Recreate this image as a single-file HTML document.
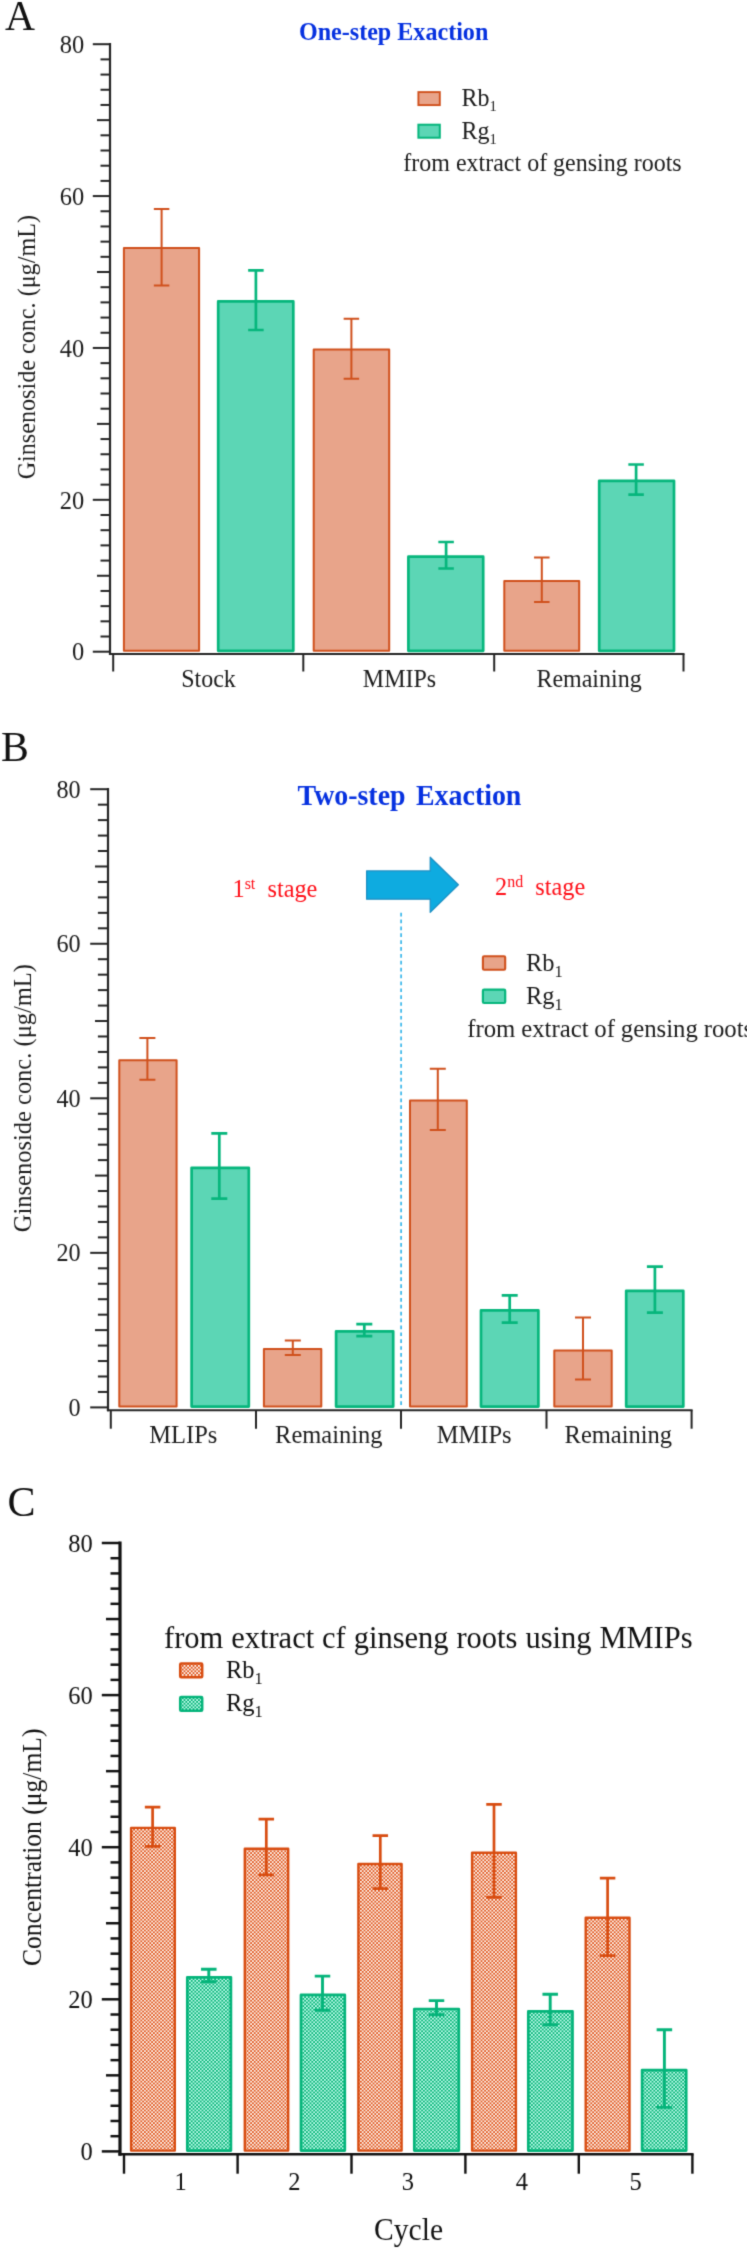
<!DOCTYPE html>
<html lang="en">
<head>
<meta charset="utf-8">
<title>Ginsenoside extraction figure</title>
<style>
html,body{margin:0;padding:0;background:#fff;}
body{width:747px;height:2248px;overflow:hidden;}
svg{display:block;font-family:"Liberation Serif","DejaVu Serif",serif;}
</style>
</head>
<body>
<svg width="747" height="2248" viewBox="0 0 747 2248">
<defs>
<filter id="soft" x="0" y="0" width="747" height="2248" filterUnits="userSpaceOnUse" color-interpolation-filters="sRGB"><feConvolveMatrix order="3" kernelMatrix="0.02 0.1 0.02 0.1 0.52 0.1 0.02 0.1 0.02" divisor="1" edgeMode="duplicate" preserveAlpha="true"/></filter>
<pattern id="po" width="3.6" height="3.6" patternUnits="userSpaceOnUse"><rect width="3.6" height="3.6" fill="#fffcf8"/><rect width="1.8" height="1.8" fill="#de5016"/><rect x="1.8" y="1.8" width="1.8" height="1.8" fill="#de5016"/></pattern>
<pattern id="pg" width="3.6" height="3.6" patternUnits="userSpaceOnUse"><rect width="3.6" height="3.6" fill="#c6fff2"/><rect width="1.8" height="1.8" fill="#00b070"/><rect x="1.8" y="1.8" width="1.8" height="1.8" fill="#00b070"/></pattern>
</defs>
<g filter="url(#soft)">
<rect width="747" height="2248" fill="#ffffff"/>
<text transform="translate(5.1 29.7) scale(1 1)" font-size="41.5" fill="#111" text-anchor="start" >A</text>
<line x1="110" y1="43.10" x2="110" y2="655.10" stroke="#242424" stroke-width="2.2"/>
<line x1="92.80" y1="44.20" x2="110.00" y2="44.20" stroke="#242424" stroke-width="2"/>
<line x1="100.50" y1="59.39" x2="110.00" y2="59.39" stroke="#242424" stroke-width="2"/>
<line x1="100.50" y1="74.58" x2="110.00" y2="74.58" stroke="#242424" stroke-width="2"/>
<line x1="100.50" y1="89.76" x2="110.00" y2="89.76" stroke="#242424" stroke-width="2"/>
<line x1="100.50" y1="104.95" x2="110.00" y2="104.95" stroke="#242424" stroke-width="2"/>
<line x1="97.00" y1="120.14" x2="110.00" y2="120.14" stroke="#242424" stroke-width="2"/>
<line x1="100.50" y1="135.32" x2="110.00" y2="135.32" stroke="#242424" stroke-width="2"/>
<line x1="100.50" y1="150.51" x2="110.00" y2="150.51" stroke="#242424" stroke-width="2"/>
<line x1="100.50" y1="165.70" x2="110.00" y2="165.70" stroke="#242424" stroke-width="2"/>
<line x1="100.50" y1="180.89" x2="110.00" y2="180.89" stroke="#242424" stroke-width="2"/>
<line x1="92.80" y1="196.07" x2="110.00" y2="196.07" stroke="#242424" stroke-width="2"/>
<line x1="100.50" y1="211.26" x2="110.00" y2="211.26" stroke="#242424" stroke-width="2"/>
<line x1="100.50" y1="226.45" x2="110.00" y2="226.45" stroke="#242424" stroke-width="2"/>
<line x1="100.50" y1="241.64" x2="110.00" y2="241.64" stroke="#242424" stroke-width="2"/>
<line x1="100.50" y1="256.82" x2="110.00" y2="256.82" stroke="#242424" stroke-width="2"/>
<line x1="97.00" y1="272.01" x2="110.00" y2="272.01" stroke="#242424" stroke-width="2"/>
<line x1="100.50" y1="287.20" x2="110.00" y2="287.20" stroke="#242424" stroke-width="2"/>
<line x1="100.50" y1="302.39" x2="110.00" y2="302.39" stroke="#242424" stroke-width="2"/>
<line x1="100.50" y1="317.57" x2="110.00" y2="317.57" stroke="#242424" stroke-width="2"/>
<line x1="100.50" y1="332.76" x2="110.00" y2="332.76" stroke="#242424" stroke-width="2"/>
<line x1="92.80" y1="347.95" x2="110.00" y2="347.95" stroke="#242424" stroke-width="2"/>
<line x1="100.50" y1="363.14" x2="110.00" y2="363.14" stroke="#242424" stroke-width="2"/>
<line x1="100.50" y1="378.32" x2="110.00" y2="378.32" stroke="#242424" stroke-width="2"/>
<line x1="100.50" y1="393.51" x2="110.00" y2="393.51" stroke="#242424" stroke-width="2"/>
<line x1="100.50" y1="408.70" x2="110.00" y2="408.70" stroke="#242424" stroke-width="2"/>
<line x1="97.00" y1="423.89" x2="110.00" y2="423.89" stroke="#242424" stroke-width="2"/>
<line x1="100.50" y1="439.07" x2="110.00" y2="439.07" stroke="#242424" stroke-width="2"/>
<line x1="100.50" y1="454.26" x2="110.00" y2="454.26" stroke="#242424" stroke-width="2"/>
<line x1="100.50" y1="469.45" x2="110.00" y2="469.45" stroke="#242424" stroke-width="2"/>
<line x1="100.50" y1="484.64" x2="110.00" y2="484.64" stroke="#242424" stroke-width="2"/>
<line x1="92.80" y1="499.82" x2="110.00" y2="499.82" stroke="#242424" stroke-width="2"/>
<line x1="100.50" y1="515.01" x2="110.00" y2="515.01" stroke="#242424" stroke-width="2"/>
<line x1="100.50" y1="530.20" x2="110.00" y2="530.20" stroke="#242424" stroke-width="2"/>
<line x1="100.50" y1="545.39" x2="110.00" y2="545.39" stroke="#242424" stroke-width="2"/>
<line x1="100.50" y1="560.58" x2="110.00" y2="560.58" stroke="#242424" stroke-width="2"/>
<line x1="97.00" y1="575.76" x2="110.00" y2="575.76" stroke="#242424" stroke-width="2"/>
<line x1="100.50" y1="590.95" x2="110.00" y2="590.95" stroke="#242424" stroke-width="2"/>
<line x1="100.50" y1="606.14" x2="110.00" y2="606.14" stroke="#242424" stroke-width="2"/>
<line x1="100.50" y1="621.33" x2="110.00" y2="621.33" stroke="#242424" stroke-width="2"/>
<line x1="100.50" y1="636.51" x2="110.00" y2="636.51" stroke="#242424" stroke-width="2"/>
<line x1="92.80" y1="651.70" x2="110.00" y2="651.70" stroke="#242424" stroke-width="2"/>
<text transform="translate(84.2 52.90) scale(1 1.035)" font-size="24.5" text-anchor="end" fill="#1c1c1c">80</text>
<text transform="translate(84.2 204.77) scale(1 1.035)" font-size="24.5" text-anchor="end" fill="#1c1c1c">60</text>
<text transform="translate(84.2 356.65) scale(1 1.035)" font-size="24.5" text-anchor="end" fill="#1c1c1c">40</text>
<text transform="translate(84.2 508.52) scale(1 1.035)" font-size="24.5" text-anchor="end" fill="#1c1c1c">20</text>
<text transform="translate(84.2 660.40) scale(1 1.035)" font-size="24.5" text-anchor="end" fill="#1c1c1c">0</text>
<line x1="109" y1="654" x2="684.5" y2="654" stroke="#242424" stroke-width="2"/>
<line x1="113.2" y1="654" x2="113.2" y2="671.5" stroke="#242424" stroke-width="2"/>
<line x1="303.3" y1="654" x2="303.3" y2="671.5" stroke="#242424" stroke-width="2"/>
<line x1="494.2" y1="654" x2="494.2" y2="671.5" stroke="#242424" stroke-width="2"/>
<line x1="683.5" y1="654" x2="683.5" y2="671.5" stroke="#242424" stroke-width="2"/>
<rect x="123.90" y="248.10" width="75.20" height="402.70" fill="#e8a48a" stroke="#d0501c" stroke-width="2.0" stroke-linejoin="round"/>
<path d="M153.85 209.00H169.35M161.60 209.00V285.60M153.85 285.60H169.35" fill="none" stroke="#d0501c" stroke-width="2.0"/>
<rect x="218.20" y="301.40" width="75.10" height="349.40" fill="#5cd6b5" stroke="#06b67c" stroke-width="2.7" stroke-linejoin="round"/>
<path d="M248.15 270.30H263.65M255.90 270.30V330.00M248.15 330.00H263.65" fill="none" stroke="#06b67c" stroke-width="2.7"/>
<rect x="313.70" y="349.50" width="75.50" height="301.30" fill="#e8a48a" stroke="#d0501c" stroke-width="2.0" stroke-linejoin="round"/>
<path d="M343.65 318.70H359.15M351.40 318.70V378.70M343.65 378.70H359.15" fill="none" stroke="#d0501c" stroke-width="2.0"/>
<rect x="408.40" y="556.70" width="74.80" height="94.10" fill="#5cd6b5" stroke="#06b67c" stroke-width="2.7" stroke-linejoin="round"/>
<path d="M438.35 542.00H453.85M446.10 542.00V568.50M438.35 568.50H453.85" fill="none" stroke="#06b67c" stroke-width="2.7"/>
<rect x="504.30" y="580.90" width="74.90" height="69.90" fill="#e8a48a" stroke="#d0501c" stroke-width="2.0" stroke-linejoin="round"/>
<path d="M534.05 557.60H549.55M541.80 557.60V602.00M534.05 602.00H549.55" fill="none" stroke="#d0501c" stroke-width="2.0"/>
<rect x="599.20" y="480.80" width="74.80" height="170.00" fill="#5cd6b5" stroke="#06b67c" stroke-width="2.7" stroke-linejoin="round"/>
<path d="M628.35 464.50H643.85M636.10 464.50V494.60M628.35 494.60H643.85" fill="none" stroke="#06b67c" stroke-width="2.7"/>
<text transform="translate(208.5 686.7) scale(1 1.035)" font-size="24" fill="#1c1c1c" text-anchor="middle" >Stock</text>
<text transform="translate(399.5 686.7) scale(1 1.035)" font-size="24" fill="#1c1c1c" text-anchor="middle" >MMIPs</text>
<text transform="translate(589 686.7) scale(1 1.035)" font-size="24" fill="#1c1c1c" text-anchor="middle" >Remaining</text>
<text transform="translate(35.3 347.2) rotate(-90) scale(1 1.035)" font-size="24.15" fill="#1c1c1c" text-anchor="middle" >Ginsenoside conc. (μg/mL)</text>
<text transform="translate(298.9 39.8) scale(1 1.06)" font-size="24.1" fill="#0631e0" text-anchor="start" font-weight="bold">One-step Exaction</text>
<rect x="418.4" y="92.1" width="21.4" height="13" fill="#e8a48a" stroke="#d0501c" stroke-width="1.9"/>
<rect x="418.4" y="124.7" width="21.4" height="13" fill="#5cd6b5" stroke="#06b67c" stroke-width="2"/>
<text transform="translate(461.6 105.6) scale(1 1.035)" font-size="24" fill="#1c1c1c">Rb<tspan dy="4.9" font-size="14.5">1</tspan></text>
<text transform="translate(461.6 138.5) scale(1 1.035)" font-size="24" fill="#1c1c1c">Rg<tspan dy="4.9" font-size="14.5">1</tspan></text>
<text transform="translate(403.3 170.8) scale(1 1.035)" font-size="24" fill="#1c1c1c" text-anchor="start" >from extract of gensing roots</text>
<text transform="translate(1.1 761.3) scale(1 1)" font-size="41.8" fill="#111" text-anchor="start" >B</text>
<line x1="108" y1="788.10" x2="108" y2="1411.30" stroke="#242424" stroke-width="2.2"/>
<line x1="90.20" y1="789.20" x2="108.00" y2="789.20" stroke="#242424" stroke-width="2"/>
<line x1="97.90" y1="804.66" x2="108.00" y2="804.66" stroke="#242424" stroke-width="2"/>
<line x1="97.90" y1="820.11" x2="108.00" y2="820.11" stroke="#242424" stroke-width="2"/>
<line x1="97.90" y1="835.57" x2="108.00" y2="835.57" stroke="#242424" stroke-width="2"/>
<line x1="97.90" y1="851.02" x2="108.00" y2="851.02" stroke="#242424" stroke-width="2"/>
<line x1="95.00" y1="866.48" x2="108.00" y2="866.48" stroke="#242424" stroke-width="2"/>
<line x1="97.90" y1="881.93" x2="108.00" y2="881.93" stroke="#242424" stroke-width="2"/>
<line x1="97.90" y1="897.39" x2="108.00" y2="897.39" stroke="#242424" stroke-width="2"/>
<line x1="97.90" y1="912.84" x2="108.00" y2="912.84" stroke="#242424" stroke-width="2"/>
<line x1="97.90" y1="928.30" x2="108.00" y2="928.30" stroke="#242424" stroke-width="2"/>
<line x1="90.20" y1="943.75" x2="108.00" y2="943.75" stroke="#242424" stroke-width="2"/>
<line x1="97.90" y1="959.21" x2="108.00" y2="959.21" stroke="#242424" stroke-width="2"/>
<line x1="97.90" y1="974.66" x2="108.00" y2="974.66" stroke="#242424" stroke-width="2"/>
<line x1="97.90" y1="990.12" x2="108.00" y2="990.12" stroke="#242424" stroke-width="2"/>
<line x1="97.90" y1="1005.57" x2="108.00" y2="1005.57" stroke="#242424" stroke-width="2"/>
<line x1="95.00" y1="1021.03" x2="108.00" y2="1021.03" stroke="#242424" stroke-width="2"/>
<line x1="97.90" y1="1036.48" x2="108.00" y2="1036.48" stroke="#242424" stroke-width="2"/>
<line x1="97.90" y1="1051.93" x2="108.00" y2="1051.93" stroke="#242424" stroke-width="2"/>
<line x1="97.90" y1="1067.39" x2="108.00" y2="1067.39" stroke="#242424" stroke-width="2"/>
<line x1="97.90" y1="1082.85" x2="108.00" y2="1082.85" stroke="#242424" stroke-width="2"/>
<line x1="90.20" y1="1098.30" x2="108.00" y2="1098.30" stroke="#242424" stroke-width="2"/>
<line x1="97.90" y1="1113.76" x2="108.00" y2="1113.76" stroke="#242424" stroke-width="2"/>
<line x1="97.90" y1="1129.21" x2="108.00" y2="1129.21" stroke="#242424" stroke-width="2"/>
<line x1="97.90" y1="1144.66" x2="108.00" y2="1144.66" stroke="#242424" stroke-width="2"/>
<line x1="97.90" y1="1160.12" x2="108.00" y2="1160.12" stroke="#242424" stroke-width="2"/>
<line x1="95.00" y1="1175.58" x2="108.00" y2="1175.58" stroke="#242424" stroke-width="2"/>
<line x1="97.90" y1="1191.03" x2="108.00" y2="1191.03" stroke="#242424" stroke-width="2"/>
<line x1="97.90" y1="1206.49" x2="108.00" y2="1206.49" stroke="#242424" stroke-width="2"/>
<line x1="97.90" y1="1221.94" x2="108.00" y2="1221.94" stroke="#242424" stroke-width="2"/>
<line x1="97.90" y1="1237.39" x2="108.00" y2="1237.39" stroke="#242424" stroke-width="2"/>
<line x1="90.20" y1="1252.85" x2="108.00" y2="1252.85" stroke="#242424" stroke-width="2"/>
<line x1="97.90" y1="1268.31" x2="108.00" y2="1268.31" stroke="#242424" stroke-width="2"/>
<line x1="97.90" y1="1283.76" x2="108.00" y2="1283.76" stroke="#242424" stroke-width="2"/>
<line x1="97.90" y1="1299.22" x2="108.00" y2="1299.22" stroke="#242424" stroke-width="2"/>
<line x1="97.90" y1="1314.67" x2="108.00" y2="1314.67" stroke="#242424" stroke-width="2"/>
<line x1="95.00" y1="1330.12" x2="108.00" y2="1330.12" stroke="#242424" stroke-width="2"/>
<line x1="97.90" y1="1345.58" x2="108.00" y2="1345.58" stroke="#242424" stroke-width="2"/>
<line x1="97.90" y1="1361.04" x2="108.00" y2="1361.04" stroke="#242424" stroke-width="2"/>
<line x1="97.90" y1="1376.49" x2="108.00" y2="1376.49" stroke="#242424" stroke-width="2"/>
<line x1="97.90" y1="1391.95" x2="108.00" y2="1391.95" stroke="#242424" stroke-width="2"/>
<line x1="90.20" y1="1407.40" x2="108.00" y2="1407.40" stroke="#242424" stroke-width="2"/>
<text transform="translate(80.6 797.80) scale(1 1.035)" font-size="24.2" text-anchor="end" fill="#1c1c1c">80</text>
<text transform="translate(80.6 952.35) scale(1 1.035)" font-size="24.2" text-anchor="end" fill="#1c1c1c">60</text>
<text transform="translate(80.6 1106.90) scale(1 1.035)" font-size="24.2" text-anchor="end" fill="#1c1c1c">40</text>
<text transform="translate(80.6 1261.45) scale(1 1.035)" font-size="24.2" text-anchor="end" fill="#1c1c1c">20</text>
<text transform="translate(80.6 1416.00) scale(1 1.035)" font-size="24.2" text-anchor="end" fill="#1c1c1c">0</text>
<line x1="106.9" y1="1410.2" x2="692.6" y2="1410.2" stroke="#242424" stroke-width="2"/>
<line x1="110.8" y1="1410.2" x2="110.8" y2="1428.7" stroke="#242424" stroke-width="2"/>
<line x1="256.0" y1="1410.2" x2="256.0" y2="1428.7" stroke="#242424" stroke-width="2"/>
<line x1="401.0" y1="1410.2" x2="401.0" y2="1428.7" stroke="#242424" stroke-width="2"/>
<line x1="546.5" y1="1410.2" x2="546.5" y2="1428.7" stroke="#242424" stroke-width="2"/>
<line x1="691.6" y1="1410.2" x2="691.6" y2="1428.7" stroke="#242424" stroke-width="2"/>
<line x1="401.1" y1="912.7" x2="401.1" y2="1407" stroke="#38b6ea" stroke-width="1.7" stroke-dasharray="3.7 3.18"/>
<rect x="119.30" y="1060.20" width="57.30" height="346.40" fill="#e8a48a" stroke="#d0501c" stroke-width="2.0" stroke-linejoin="round"/>
<path d="M139.40 1038.00H155.40M147.40 1038.00V1079.80M139.40 1079.80H155.40" fill="none" stroke="#d0501c" stroke-width="2.0"/>
<rect x="191.60" y="1167.80" width="57.20" height="238.80" fill="#5cd6b5" stroke="#06b67c" stroke-width="2.7" stroke-linejoin="round"/>
<path d="M211.30 1133.30H227.30M219.30 1133.30V1198.70M211.30 1198.70H227.30" fill="none" stroke="#06b67c" stroke-width="2.7"/>
<rect x="263.90" y="1349.00" width="57.40" height="57.60" fill="#e8a48a" stroke="#d0501c" stroke-width="2.0" stroke-linejoin="round"/>
<path d="M284.80 1340.60H300.80M292.80 1340.60V1355.00M284.80 1355.00H300.80" fill="none" stroke="#d0501c" stroke-width="2.0"/>
<rect x="336.10" y="1331.30" width="57.10" height="75.30" fill="#5cd6b5" stroke="#06b67c" stroke-width="2.7" stroke-linejoin="round"/>
<path d="M356.30 1324.10H372.30M364.30 1324.10V1336.10M356.30 1336.10H372.30" fill="none" stroke="#06b67c" stroke-width="2.7"/>
<rect x="410.00" y="1100.50" width="56.80" height="306.10" fill="#e8a48a" stroke="#d0501c" stroke-width="2.0" stroke-linejoin="round"/>
<path d="M429.80 1068.70H445.80M437.80 1068.70V1130.10M429.80 1130.10H445.80" fill="none" stroke="#d0501c" stroke-width="2.0"/>
<rect x="481.00" y="1310.40" width="57.40" height="96.20" fill="#5cd6b5" stroke="#06b67c" stroke-width="2.7" stroke-linejoin="round"/>
<path d="M501.70 1295.30H517.70M509.70 1295.30V1322.70M501.70 1322.70H517.70" fill="none" stroke="#06b67c" stroke-width="2.7"/>
<rect x="554.30" y="1350.40" width="57.40" height="56.20" fill="#e8a48a" stroke="#d0501c" stroke-width="2.0" stroke-linejoin="round"/>
<path d="M575.00 1317.60H591.00M583.00 1317.60V1379.60M575.00 1379.60H591.00" fill="none" stroke="#d0501c" stroke-width="2.0"/>
<rect x="626.20" y="1290.80" width="57.10" height="115.80" fill="#5cd6b5" stroke="#06b67c" stroke-width="2.7" stroke-linejoin="round"/>
<path d="M646.90 1266.70H662.90M654.90 1266.70V1312.60M646.90 1312.60H662.90" fill="none" stroke="#06b67c" stroke-width="2.7"/>
<text transform="translate(183.3 1443) scale(1 1.035)" font-size="24.5" fill="#1c1c1c" text-anchor="middle" >MLIPs</text>
<text transform="translate(328.8 1443) scale(1 1.035)" font-size="24.5" fill="#1c1c1c" text-anchor="middle" >Remaining</text>
<text transform="translate(474.2 1443) scale(1 1.035)" font-size="24.5" fill="#1c1c1c" text-anchor="middle" >MMIPs</text>
<text transform="translate(618.3 1443) scale(1 1.035)" font-size="24.5" fill="#1c1c1c" text-anchor="middle" >Remaining</text>
<text transform="translate(30.8 1098.1) rotate(-90) scale(1 1.035)" font-size="24.5" fill="#1c1c1c" text-anchor="middle" >Ginsenoside conc. (μg/mL)</text>
<text transform="translate(409.5 805.1) scale(1 1.09)" font-size="27.9" fill="#0631e0" text-anchor="middle" font-weight="bold" word-spacing="3.5">Two-step Exaction</text>
<text transform="translate(232.5 896.6) scale(1 1.05)" font-size="24.3" fill="#ff0f18" xml:space="preserve">1<tspan dy="-7.5" font-size="16">st</tspan><tspan dy="7.5">  stage</tspan></text>
<text transform="translate(495.0 895.3) scale(1 1.05)" font-size="24.3" fill="#ff0f18" xml:space="preserve">2<tspan dy="-7.5" font-size="16">nd</tspan><tspan dy="7.5">  stage</tspan></text>
<path d="M366.6 870.9H430.2V857.2L458.4 884.8L430.2 912.4V899.2H366.6Z" fill="#0eabe0" stroke="#1c8ec2" stroke-width="1.2" stroke-linejoin="round"/>
<rect x="482.9" y="956.3" width="22.3" height="13.4" rx="1.2" fill="#e8a48a" stroke="#d0501c" stroke-width="2.1"/>
<rect x="482.9" y="989.6" width="22.3" height="13.4" rx="1.2" fill="#5cd6b5" stroke="#06b67c" stroke-width="2.2"/>
<text transform="translate(526.0 971) scale(1 1.035)" font-size="24.5" fill="#1c1c1c">Rb<tspan dy="6.2" font-size="16.5">1</tspan></text>
<text transform="translate(526.0 1004) scale(1 1.035)" font-size="24.5" fill="#1c1c1c">Rg<tspan dy="6.2" font-size="16.5">1</tspan></text>
<text transform="translate(467.2 1036.8) scale(1 1.035)" font-size="24.8" fill="#1c1c1c" text-anchor="start" word-spacing="-0.4">from extract of gensing roots</text>
<text transform="translate(7.6 1515.5) scale(1 1)" font-size="42" fill="#111" text-anchor="start" >C</text>
<line x1="120" y1="1541.40" x2="120" y2="2155.80" stroke="#111111" stroke-width="3.2"/>
<line x1="101.80" y1="1543.00" x2="120.00" y2="1543.00" stroke="#111111" stroke-width="2.5"/>
<line x1="110.50" y1="1558.21" x2="120.00" y2="1558.21" stroke="#111111" stroke-width="2.5"/>
<line x1="110.50" y1="1573.42" x2="120.00" y2="1573.42" stroke="#111111" stroke-width="2.5"/>
<line x1="110.50" y1="1588.63" x2="120.00" y2="1588.63" stroke="#111111" stroke-width="2.5"/>
<line x1="110.50" y1="1603.84" x2="120.00" y2="1603.84" stroke="#111111" stroke-width="2.5"/>
<line x1="106.00" y1="1619.05" x2="120.00" y2="1619.05" stroke="#111111" stroke-width="2.5"/>
<line x1="110.50" y1="1634.26" x2="120.00" y2="1634.26" stroke="#111111" stroke-width="2.5"/>
<line x1="110.50" y1="1649.47" x2="120.00" y2="1649.47" stroke="#111111" stroke-width="2.5"/>
<line x1="110.50" y1="1664.68" x2="120.00" y2="1664.68" stroke="#111111" stroke-width="2.5"/>
<line x1="110.50" y1="1679.89" x2="120.00" y2="1679.89" stroke="#111111" stroke-width="2.5"/>
<line x1="101.80" y1="1695.10" x2="120.00" y2="1695.10" stroke="#111111" stroke-width="2.5"/>
<line x1="110.50" y1="1710.31" x2="120.00" y2="1710.31" stroke="#111111" stroke-width="2.5"/>
<line x1="110.50" y1="1725.52" x2="120.00" y2="1725.52" stroke="#111111" stroke-width="2.5"/>
<line x1="110.50" y1="1740.73" x2="120.00" y2="1740.73" stroke="#111111" stroke-width="2.5"/>
<line x1="110.50" y1="1755.94" x2="120.00" y2="1755.94" stroke="#111111" stroke-width="2.5"/>
<line x1="106.00" y1="1771.15" x2="120.00" y2="1771.15" stroke="#111111" stroke-width="2.5"/>
<line x1="110.50" y1="1786.36" x2="120.00" y2="1786.36" stroke="#111111" stroke-width="2.5"/>
<line x1="110.50" y1="1801.57" x2="120.00" y2="1801.57" stroke="#111111" stroke-width="2.5"/>
<line x1="110.50" y1="1816.78" x2="120.00" y2="1816.78" stroke="#111111" stroke-width="2.5"/>
<line x1="110.50" y1="1831.99" x2="120.00" y2="1831.99" stroke="#111111" stroke-width="2.5"/>
<line x1="101.80" y1="1847.20" x2="120.00" y2="1847.20" stroke="#111111" stroke-width="2.5"/>
<line x1="110.50" y1="1862.41" x2="120.00" y2="1862.41" stroke="#111111" stroke-width="2.5"/>
<line x1="110.50" y1="1877.62" x2="120.00" y2="1877.62" stroke="#111111" stroke-width="2.5"/>
<line x1="110.50" y1="1892.83" x2="120.00" y2="1892.83" stroke="#111111" stroke-width="2.5"/>
<line x1="110.50" y1="1908.04" x2="120.00" y2="1908.04" stroke="#111111" stroke-width="2.5"/>
<line x1="106.00" y1="1923.25" x2="120.00" y2="1923.25" stroke="#111111" stroke-width="2.5"/>
<line x1="110.50" y1="1938.46" x2="120.00" y2="1938.46" stroke="#111111" stroke-width="2.5"/>
<line x1="110.50" y1="1953.67" x2="120.00" y2="1953.67" stroke="#111111" stroke-width="2.5"/>
<line x1="110.50" y1="1968.88" x2="120.00" y2="1968.88" stroke="#111111" stroke-width="2.5"/>
<line x1="110.50" y1="1984.09" x2="120.00" y2="1984.09" stroke="#111111" stroke-width="2.5"/>
<line x1="101.80" y1="1999.30" x2="120.00" y2="1999.30" stroke="#111111" stroke-width="2.5"/>
<line x1="110.50" y1="2014.51" x2="120.00" y2="2014.51" stroke="#111111" stroke-width="2.5"/>
<line x1="110.50" y1="2029.72" x2="120.00" y2="2029.72" stroke="#111111" stroke-width="2.5"/>
<line x1="110.50" y1="2044.93" x2="120.00" y2="2044.93" stroke="#111111" stroke-width="2.5"/>
<line x1="110.50" y1="2060.14" x2="120.00" y2="2060.14" stroke="#111111" stroke-width="2.5"/>
<line x1="106.00" y1="2075.35" x2="120.00" y2="2075.35" stroke="#111111" stroke-width="2.5"/>
<line x1="110.50" y1="2090.56" x2="120.00" y2="2090.56" stroke="#111111" stroke-width="2.5"/>
<line x1="110.50" y1="2105.77" x2="120.00" y2="2105.77" stroke="#111111" stroke-width="2.5"/>
<line x1="110.50" y1="2120.98" x2="120.00" y2="2120.98" stroke="#111111" stroke-width="2.5"/>
<line x1="110.50" y1="2136.19" x2="120.00" y2="2136.19" stroke="#111111" stroke-width="2.5"/>
<line x1="101.80" y1="2151.40" x2="120.00" y2="2151.40" stroke="#111111" stroke-width="2.5"/>
<text transform="translate(92.8 1551.60) scale(1 1.035)" font-size="24.5" text-anchor="end" fill="#111">80</text>
<text transform="translate(92.8 1703.70) scale(1 1.035)" font-size="24.5" text-anchor="end" fill="#111">60</text>
<text transform="translate(92.8 1855.80) scale(1 1.035)" font-size="24.5" text-anchor="end" fill="#111">40</text>
<text transform="translate(92.8 2007.90) scale(1 1.035)" font-size="24.5" text-anchor="end" fill="#111">20</text>
<text transform="translate(92.8 2160.00) scale(1 1.035)" font-size="24.5" text-anchor="end" fill="#111">0</text>
<line x1="118.4" y1="2154.2" x2="693.6" y2="2154.2" stroke="#111111" stroke-width="2.4"/>
<line x1="124.0" y1="2154.2" x2="124.0" y2="2173.7" stroke="#111111" stroke-width="2.4"/>
<line x1="237.6" y1="2154.2" x2="237.6" y2="2173.7" stroke="#111111" stroke-width="2.4"/>
<line x1="351.5" y1="2154.2" x2="351.5" y2="2173.7" stroke="#111111" stroke-width="2.4"/>
<line x1="465.4" y1="2154.2" x2="465.4" y2="2173.7" stroke="#111111" stroke-width="2.4"/>
<line x1="578.8" y1="2154.2" x2="578.8" y2="2173.7" stroke="#111111" stroke-width="2.4"/>
<line x1="692.4" y1="2154.2" x2="692.4" y2="2173.7" stroke="#111111" stroke-width="2.4"/>
<rect x="131.10" y="1827.90" width="43.70" height="322.70" fill="url(#po)" stroke="#d84c10" stroke-width="2.4" stroke-linejoin="round"/>
<path d="M144.85 1807.10H160.35M152.60 1807.10V1846.40M144.85 1846.40H160.35" fill="none" stroke="#d84c10" stroke-width="2.7"/>
<rect x="187.30" y="1977.30" width="43.60" height="173.30" fill="url(#pg)" stroke="#04b47a" stroke-width="2.7" stroke-linejoin="round"/>
<path d="M201.05 1969.30H216.55M208.80 1969.30V1981.80M201.05 1981.80H216.55" fill="none" stroke="#04b47a" stroke-width="2.9"/>
<rect x="244.80" y="1848.70" width="43.40" height="301.90" fill="url(#po)" stroke="#d84c10" stroke-width="2.4" stroke-linejoin="round"/>
<path d="M258.55 1819.10H274.05M266.30 1819.10V1874.90M258.55 1874.90H274.05" fill="none" stroke="#d84c10" stroke-width="2.7"/>
<rect x="301.00" y="1994.90" width="43.80" height="155.70" fill="url(#pg)" stroke="#04b47a" stroke-width="2.7" stroke-linejoin="round"/>
<path d="M314.75 1976.10H330.25M322.50 1976.10V2010.30M314.75 2010.30H330.25" fill="none" stroke="#04b47a" stroke-width="2.9"/>
<rect x="358.40" y="1864.00" width="43.20" height="286.60" fill="url(#po)" stroke="#d84c10" stroke-width="2.4" stroke-linejoin="round"/>
<path d="M372.55 1835.60H388.05M380.30 1835.60V1888.60M372.55 1888.60H388.05" fill="none" stroke="#d84c10" stroke-width="2.7"/>
<rect x="414.30" y="2009.00" width="44.50" height="141.60" fill="url(#pg)" stroke="#04b47a" stroke-width="2.7" stroke-linejoin="round"/>
<path d="M428.75 2000.60H444.25M436.50 2000.60V2014.70M428.75 2014.70H444.25" fill="none" stroke="#04b47a" stroke-width="2.9"/>
<rect x="472.10" y="1852.70" width="43.80" height="297.90" fill="url(#po)" stroke="#d84c10" stroke-width="2.4" stroke-linejoin="round"/>
<path d="M486.25 1804.30H501.75M494.00 1804.30V1897.40M486.25 1897.40H501.75" fill="none" stroke="#d84c10" stroke-width="2.7"/>
<rect x="528.30" y="2011.40" width="44.20" height="139.20" fill="url(#pg)" stroke="#04b47a" stroke-width="2.7" stroke-linejoin="round"/>
<path d="M542.45 1994.20H557.95M550.20 1994.20V2024.70M542.45 2024.70H557.95" fill="none" stroke="#04b47a" stroke-width="2.9"/>
<rect x="585.70" y="1917.80" width="43.80" height="232.80" fill="url(#po)" stroke="#d84c10" stroke-width="2.4" stroke-linejoin="round"/>
<path d="M599.85 1878.20H615.35M607.60 1878.20V1955.70M599.85 1955.70H615.35" fill="none" stroke="#d84c10" stroke-width="2.7"/>
<rect x="642.10" y="2070.10" width="44.10" height="80.50" fill="url(#pg)" stroke="#04b47a" stroke-width="2.7" stroke-linejoin="round"/>
<path d="M656.65 2029.70H672.15M664.40 2029.70V2107.40M656.65 2107.40H672.15" fill="none" stroke="#04b47a" stroke-width="2.9"/>
<text transform="translate(180.6 2189.9) scale(1 1.035)" font-size="24.5" fill="#111" text-anchor="middle" >1</text>
<text transform="translate(294.5 2189.9) scale(1 1.035)" font-size="24.5" fill="#111" text-anchor="middle" >2</text>
<text transform="translate(408 2189.9) scale(1 1.035)" font-size="24.5" fill="#111" text-anchor="middle" >3</text>
<text transform="translate(521.8 2189.9) scale(1 1.035)" font-size="24.5" fill="#111" text-anchor="middle" >4</text>
<text transform="translate(635.6 2189.9) scale(1 1.035)" font-size="24.5" fill="#111" text-anchor="middle" >5</text>
<text transform="translate(408.5 2239.6) scale(1 1.035)" font-size="29.6" fill="#111" text-anchor="middle" >Cycle</text>
<text transform="translate(40.8 1847.3) rotate(-90) scale(1 1.035)" font-size="25.6" fill="#111" text-anchor="middle" >Concentration (μg/mL)</text>
<text transform="translate(164 1647.5) scale(1 1.045)" font-size="30.5" fill="#111" text-anchor="start" word-spacing="0.3">from extract cf ginseng roots using MMIPs</text>
<rect x="180.2" y="1663.4" width="22" height="13.8" rx="1" fill="url(#po)" stroke="#d84c10" stroke-width="2.5"/>
<rect x="180.2" y="1696.9" width="22" height="13.8" rx="1" fill="url(#pg)" stroke="#04b47a" stroke-width="2.5"/>
<text transform="translate(226 1677.5) scale(1 1.035)" font-size="24.5" fill="#111">Rb<tspan dy="6.2" font-size="16.5">1</tspan></text>
<text transform="translate(226 1711) scale(1 1.035)" font-size="24.5" fill="#111">Rg<tspan dy="6.2" font-size="16.5">1</tspan></text>
</g>
</svg>
</body>
</html>
